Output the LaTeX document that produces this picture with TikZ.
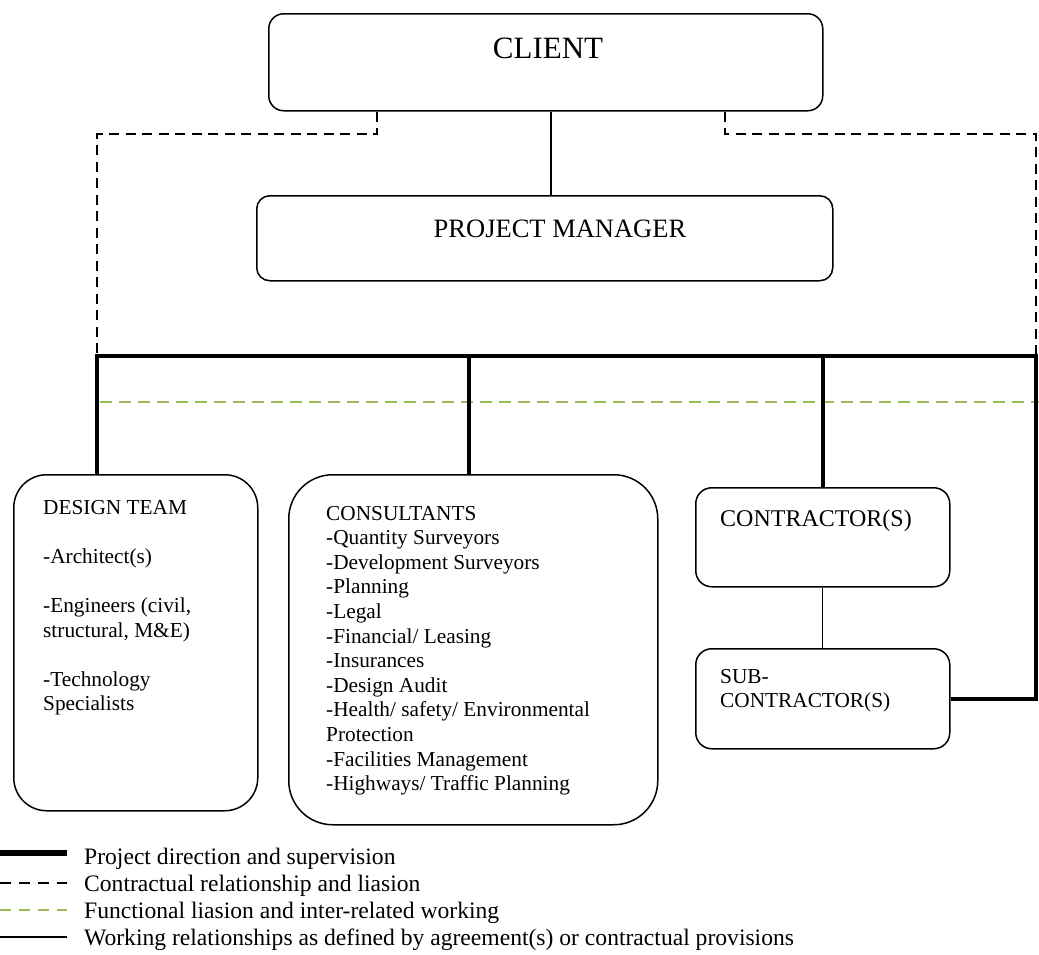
\documentclass[tikz,border=0pt]{standalone}
\usepackage{fontspec}
\setmainfont{Liberation Serif}
\definecolor{funcgreen}{HTML}{9BBB59}
\newcommand{\linesof}[1]{\begin{tabular}[t]{@{}l@{}}#1\end{tabular}}
\begin{document}
\begin{tikzpicture}[x=1pt,y=-1pt,
  box/.style={draw=black,line width=1.5pt,anchor=north west,inner sep=0pt},
  direction/.style={line width=4.5pt,line join=miter},
  contract/.style={line width=2pt,dash pattern=on 10pt off 6.5pt},
  functional/.style={funcgreen,line width=2pt,dash pattern=on 12pt off 7pt},
  work/.style={line width=1.3pt},
  txt/.style={anchor=base west,inner sep=0pt,font=\fontsize{21.3}{24.6}\selectfont},
  legtxt/.style={anchor=base west,inner sep=0pt,font=\fontsize{23.6}{27}\selectfont}]
\useasboundingbox (0,0) rectangle (1039,954);

% boxes
\node[box,rounded corners=15pt,minimum width=554pt,minimum height=97pt] (client) at (268,13) {};
\node[box,rounded corners=13pt,minimum width=576pt,minimum height=85pt] (pm) at (256,195) {};
\node[box,rounded corners=33pt,minimum width=244pt,minimum height=336pt] (design) at (13,474) {};
\node[box,rounded corners=44pt,minimum width=369pt,minimum height=350pt] (cons) at (288,474) {};
\node[box,rounded corners=16pt,minimum width=254pt,minimum height=99pt] (contr) at (695,487) {};
\node[box,rounded corners=16pt,minimum width=254pt,minimum height=100pt] (sub) at (695,648) {};

% box texts
\node[anchor=base,inner sep=0pt,font=\fontsize{31}{36}\selectfont] (tclient) at (548,58) {CLIENT};
\node[anchor=base,inner sep=0pt,font=\fontsize{26.5}{30}\selectfont] (tpm) at (560,237) {PROJECT MANAGER};
\node[anchor=base west,inner sep=0pt,font=\fontsize{24}{28}\selectfont] (tcontr) at (720,526) {CONTRACTOR(S)};
\node[txt] (tsub) at (720,683) {\linesof{SUB-\\CONTRACTOR(S)}};
\node[txt] (tdesign) at (43,514) {\linesof{DESIGN TEAM\\[24.6pt]-Architect(s)\\[24.6pt]-Engineers (civil,\\structural, M\&E)\\[24.6pt]-Technology\\Specialists}};
\node[txt] (tcons) at (326,520) {\linesof{CONSULTANTS\\-Quantity Surveyors\\-Development Surveyors\\-Planning\\-Legal\\-Financial/ Leasing\\-Insurances\\-Design Audit\\-Health/ safety/ Environmental\\Protection\\-Facilities Management\\-Highways/ Traffic Planning}};

% junction points of the connector network
\coordinate (cpm) at (551,0);
\coordinate (stubL) at (377,134);
\coordinate (stubR) at (725,134);
\coordinate (dl) at (97,134);
\coordinate (dr) at (1036,134);
\coordinate (busL) at (97,356);
\coordinate (busR) at (1036,356);
\coordinate (tapC) at (469,356);
\coordinate (gL) at (100,402);
\coordinate (gR) at (1039,402);

% working relationships
\draw[work] (client.south -| cpm) -- (pm.north -| cpm);
\draw[work] (contr.south) -- (sub.north);

% contractual links
\draw[contract] (client.south -| stubL) -- (stubL) -- (dl) -- ([yshift=-2pt]busL);
\draw[contract] (client.south -| stubR) -- (stubR) -- (dr) -- ([yshift=-2pt]busR);

% functional liaison
\draw[functional] (gL) -- (gR);

% direction and supervision
\draw[direction] (design.north -| busL) -- (busL) -- (busR) -- (busR |- sub.east) -- (sub.east);
\draw[direction] (tapC) -- (tapC |- cons.north);
\draw[direction] (contr.north) -- (contr.north |- busL);

% legend
\coordinate (l1a) at (0,853);   \coordinate (l1b) at (67,853);
\coordinate (l2a) at (0,883);   \coordinate (l2b) at (67,883);
\coordinate (l3a) at (0,910);   \coordinate (l3b) at (67,910);
\coordinate (l4a) at (0,937);   \coordinate (l4b) at (67,937);
\draw[line width=6pt] (l1a) -- (l1b);
\draw[line width=2pt,dash pattern=on 11pt off 8pt] (l2a) -- (l2b);
\draw[funcgreen,line width=2pt,dash pattern=on 11pt off 8pt] (l3a) -- (l3b);
\draw[line width=1.3pt] (l4a) -- (l4b);
\node[legtxt] (leg1) at (84,864) {Project direction and supervision};
\node[legtxt] (leg2) at (84,891) {Contractual relationship and liasion};
\node[legtxt] (leg3) at (84,918) {Functional liasion and inter-related working};
\node[legtxt] (leg4) at (84,945) {Working relationships as defined by agreement(s) or contractual provisions};
\end{tikzpicture}
\end{document}
